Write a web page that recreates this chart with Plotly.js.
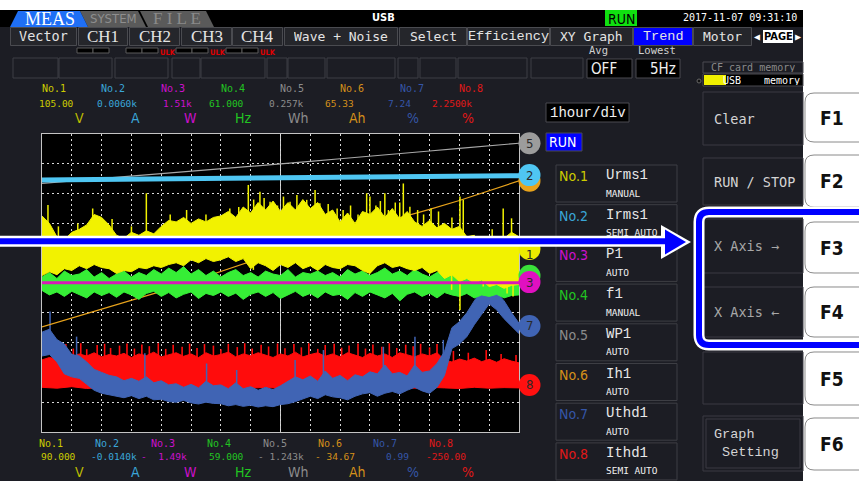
<!DOCTYPE html>
<html><head><meta charset="utf-8">
<script src="https://cdn.plot.ly/plotly-3.0.1.min.js"></script>
<style>html,body{margin:0;padding:0;background:#fff;overflow:hidden}#chart{width:859px;height:481px}</style>
</head><body><div id="chart"></div>
<script>
const channelNames = ['No.1','No.2','No.3','No.4','No.5','No.6','No.7','No.8'];
const channelItems = ['Urms1','Irms1','P1','f1','WP1','Ih1','Uthd1','Ithd1'];
const channelModes = ['MANUAL','SEMI AUTO','AUTO','MANUAL','AUTO','AUTO','AUTO','SEMI AUTO'];
const channelUnits = ['V','A','W','Hz','Wh','Ah','%','%'];
const upperScale = ['105.00','0.0060k','1.51k','61.000','0.257k','65.33','7.24','2.2500k'];
const lowerScale = ['90.000','-0.0140k','-  1.49k','59.000','- 1.243k','- 34.67','0.99','-250.00'];
const menuTabs = ['Vector','CH1','CH2','CH3','CH4','Wave + Noise','Select','Efficiency','XY Graph','Trend','Motor'];
const softKeys = ['Clear','RUN / STOP','X Axis \u2192','X Axis \u2190','','Graph<br>&nbsp;Setting'];
const fKeys = ['F1','F2','F3','F4','F5','F6'];
const timeDiv = '1hour/div';
const windowHours = 16;

// values in screen divisions (0..10), sampled evenly across the 16 h window
const whTrend   = [8.34,8.42,8.50,8.59,8.67,8.76,8.84,8.92,9.00,9.08,9.17,9.25,9.34,9.43,9.52,9.60,9.69];
const irmsTrend = [8.46,8.47,8.49,8.50,8.51,8.52,8.52,8.53,8.54,8.55,8.55,8.56,8.57,8.57,8.58,8.58,8.60];
const ahTrend   = [3.53,3.83,4.13,4.43,4.72,5.05,5.38,5.72,6.06,6.35,6.63,6.90,7.17,7.47,7.77,8.10,8.43];
const pTrend    = [5.01,5.01,5.01,5.01,5.01,5.01,5.01,5.01,5.01,5.01,5.01,5.01,5.01,5.01,5.01,5.01,5.01];

const urmsHigh = [7.25,7.00,6.55,6.45,6.70,6.80,6.95,7.30,7.20,6.95,
                  6.60,6.50,6.70,6.60,6.75,6.65,6.90,7.10,7.05,7.20,
                  7.00,7.15,7.05,7.20,7.25,7.40,7.20,7.55,7.35,7.70,
                  7.45,7.75,7.40,7.70,7.45,7.80,7.50,7.70,7.30,7.45,
                  7.05,7.35,7.00,7.40,7.30,7.55,7.20,7.50,7.15,7.40,
                  7.05,6.90,7.10,6.85,7.00,6.80,6.90,6.55,6.60,6.35,
                  6.45,6.30,6.50,6.70,6.55];
const urmsLow  = [5.25,5.38,5.28,5.48,5.42,5.58,5.48,5.62,5.52,5.48,
                  5.32,5.42,5.38,5.52,5.48,5.58,5.52,5.62,5.68,5.58,
                  5.78,5.68,5.82,5.72,5.78,5.88,5.72,5.82,5.48,5.68,
                  5.58,5.42,5.62,5.52,5.68,5.48,5.58,5.42,5.62,5.52,
                  5.48,5.62,5.58,5.42,5.32,5.58,5.68,5.52,5.58,5.48,
                  5.42,5.52,5.32,5.42,5.15,5.28,5.05,5.15,5.00,5.10,
                  4.88,4.95,4.82,4.92,4.95];
const urmsSpikeHours = [0.2,0.55,1.2,1.7,2.35,3.0,3.5,4.3,4.85,5.5,6.3,6.92,7.1,7.31,7.65,7.9,8.1,8.32,8.77,8.88,
                        9.16,9.32,10.1,10.6,10.89,11.0,11.2,11.5,11.62,12.0,12.12,12.34,12.8,13.3,13.75,14.02,14.13,15.1,15.47,15.75,
                        6.6,7.45,8.55,9.6,9.9,10.35,11.35,11.85,12.6,13.05];
const urmsSpikeTops  = [7.62,6.9,7.0,7.5,7.15,6.9,8.01,7.3,7.45,7.3,7.5,8.29,7.8,8.06,7.73,7.6,7.9,7.73,7.6,7.79,
                        8.12,7.68,7.45,7.3,8.01,7.9,7.6,8.01,7.45,7.7,8.34,7.56,7.3,7.4,7.2,7.9,7.79,6.8,7.5,7.17,
                        7.55,7.85,7.95,7.65,7.5,7.6,7.75,7.7,7.45,7.5];
const urmsDipHours   = [7.09,9.1,11.0,13.74,14.02,14.8,15.6,15.8];
const urmsDipBottoms = [5.44,5.5,5.32,4.77,4.09,4.88,4.65,4.55];

const fHigh = [5.20,5.35,5.15,5.40,5.25,5.30,5.45,5.20,5.35,5.15,
               5.30,5.40,5.20,5.35,5.25,5.45,5.30,5.50,5.35,5.55,
               5.30,5.45,5.25,5.40,5.20,5.35,5.45,5.25,5.35,5.20,
               5.40,5.30,5.25,5.45,5.20,5.35,5.30,5.40,5.25,5.35,
               5.20,5.45,5.30,5.40,5.25,5.35,5.50,5.30,5.40,5.25,
               5.45,5.30,5.20,5.35,5.40,5.25,5.40,5.30,5.45,5.35,
               5.50,5.40,5.45,5.35,5.30];
const fLow  = [4.75,4.60,4.70,4.55,4.72,4.62,4.50,4.70,4.58,4.68,
               4.52,4.70,4.60,4.45,4.65,4.72,4.55,4.68,4.50,4.62,
               4.70,4.48,4.65,4.58,4.70,4.55,4.66,4.45,4.62,4.70,
               4.55,4.68,4.48,4.60,4.72,4.55,4.65,4.50,4.70,4.58,
               4.62,4.45,4.68,4.55,4.70,4.60,4.50,4.65,4.40,4.62,
               4.70,4.55,4.66,4.50,4.68,4.60,4.55,4.65,4.50,4.60,
               4.55,4.62,4.50,4.58,4.60];

const uthdHigh = [3.35,3.45,3.10,2.95,2.60,2.55,2.35,2.10,2.00,1.90,
                  1.85,1.72,1.80,1.70,1.85,1.65,1.72,1.58,1.62,1.50,
                  1.60,1.48,1.70,1.55,1.58,1.45,1.65,1.45,1.52,1.40,
                  1.50,1.42,1.55,1.70,1.85,1.75,1.88,1.70,2.05,1.80,
                  1.90,1.72,1.92,1.85,2.02,1.95,2.25,1.95,2.00,1.88,
                  2.25,2.00,2.05,2.30,2.70,3.50,3.70,4.00,4.40,4.75,
                  4.95,4.70,4.40,4.00,3.65];
const uthdLow  = [2.55,2.60,2.35,1.95,1.85,1.80,1.60,1.40,1.30,1.25,
                  1.20,1.15,1.22,1.12,1.20,1.08,1.10,1.02,1.00,1.06,
                  0.98,0.94,1.00,0.96,0.95,0.88,0.92,0.86,0.90,0.84,
                  0.88,0.85,0.92,0.95,1.02,1.10,1.20,1.12,1.25,1.18,
                  1.15,1.08,1.20,1.28,1.32,1.20,1.30,1.36,1.28,1.40,
                  1.50,1.38,1.30,1.50,1.90,2.80,2.95,3.20,3.60,3.95,
                  4.30,4.10,3.80,3.55,3.30];
const uthdSpikeHours = [0.27,1.16,3.45,5.52,6.53,8.49,9.44,11.45,12.51,13.46];
const uthdSpikeTops  = [4.04,3.20,2.64,2.30,2.08,2.42,2.75,2.86,3.20,3.09];

const ithdHigh = [2.42,2.50,2.45,2.58,2.52,2.62,2.55,2.66,2.52,2.60,
                  2.55,2.64,2.50,2.62,2.56,2.68,2.52,2.60,2.66,2.54,
                  2.62,2.50,2.66,2.55,2.60,2.68,2.52,2.62,2.56,2.66,
                  2.58,2.50,2.62,2.55,2.68,2.52,2.60,2.66,2.54,2.62,
                  2.52,2.66,2.58,2.50,2.64,2.55,2.62,2.50,2.66,2.58,
                  2.52,2.62,2.55,2.66,2.42,2.35,2.45,2.38,2.48,2.36,
                  2.44,2.34,2.46,2.38,2.32];
const ithdLow  = [1.50,1.47,1.52,1.46,1.49,1.45,1.50,1.47,1.48,1.45,
                  1.50,1.46,1.48,1.45,1.47,1.50,1.46,1.48,1.45,1.49,
                  1.47,1.50,1.46,1.48,1.52,1.47,1.50,1.48,1.46,1.50,
                  1.47,1.49,1.48];
const ithdSpikeHours = [0.55,0.8,1.05,1.3,1.5,1.85,2.1,2.3,2.6,2.85,
                        3.1,3.35,3.6,3.9,4.15,4.4,4.7,4.95,5.2,5.45,
                        5.75,6.0,6.25,6.55,6.8,7.05,7.35,7.6,7.9,8.15,
                        8.45,8.7,8.95,9.25,9.5,9.8,10.05,10.3,10.6,10.85,
                        11.1,11.4,11.65,11.9,12.2,12.45,12.7,13.0,13.25,
                        13.8,14.3,14.9,15.4,15.9];
const ithdSpikeTops  = [2.85,2.95,2.80,2.98,2.78,2.92,2.96,2.82,2.90,2.97,
                        2.80,2.94,2.88,2.98,2.79,2.93,2.86,2.97,2.82,2.95,
                        2.90,2.78,2.96,2.85,2.98,2.80,2.93,2.87,2.97,2.81,
                        2.95,2.84,2.98,2.79,2.92,2.96,2.83,2.90,2.97,2.80,
                        2.94,2.86,2.98,2.82,2.93,2.88,2.96,2.84,2.95,
                        2.72,2.66,2.75,2.62,2.58];

// end-of-trace markers (channel number, value in divisions)
const markerOrder  = [5,6,2,1,4,3,7,8];
const markerValues = [9.69,8.43,8.62,6.14,5.24,5.03,3.56,1.58];

// ---------------- helpers ----------------
const hoursOf = arr => arr.map((_, i) => i * windowHours / (arr.length - 1));
function interp(xs, ys, x){ for(let i=1;i<xs.length;i++){ if(x<=xs[i]){const t=(x-xs[i-1])/(xs[i]-xs[i-1]);return ys[i-1]+t*(ys[i]-ys[i-1]);} } return ys[ys.length-1]; }
function spikes(hours, ends, refArr, offset){
  const xs=[], ys=[]; const rx=hoursOf(refArr);
  hours.forEach((h,i)=>{ xs.push(h,h,null); ys.push(interp(rx,refArr,h)+offset, ends[i], null); });
  return {x:xs,y:ys};
}

const PL=42, PR=519, PT=134, PB=432;
const fx = x => (x-PL)/(PR-PL);
const fy = y => (PB-y)/(PB-PT);
let shapes=[]; const anns=[];
const NONE='rgba(0,0,0,0)';
function rect(x0,y0,x1,y1,fill,line,lw){ shapes.push({type:'rect',xref:'paper',yref:'paper',x0:fx(x0),x1:fx(x1),y0:fy(y1),y1:fy(y0),fillcolor:fill||NONE,line:{color:line||NONE,width:line?(lw||1):0}}); }
const P=(x,y)=>fx(x).toFixed(5)+','+fy(y).toFixed(5);
function poly(pts,fill,line,lw){ const d=pts.map((p,i)=>(i?'L':'M')+P(p[0],p[1])).join(' ')+' Z'; shapes.push({type:'path',xref:'paper',yref:'paper',path:d,fillcolor:fill||NONE,line:{color:line||NONE,width:line?lw:0}}); }
function rrect(x0,y0,x1,y1,r,fill,line,lw){ const d=`M${P(x0+r,y0)} L${P(x1-r,y0)} Q${P(x1,y0)} ${P(x1,y0+r)} L${P(x1,y1-r)} Q${P(x1,y1)} ${P(x1-r,y1)} L${P(x0+r,y1)} Q${P(x0,y1)} ${P(x0,y1-r)} L${P(x0,y0+r)} Q${P(x0,y0)} ${P(x0+r,y0)} Z`; shapes.push({type:'path',xref:'paper',yref:'paper',path:d,fillcolor:fill||NONE,line:{color:line||NONE,width:line?lw:0}}); }
function hline(x0,x1,y,color,w){ shapes.push({type:'line',xref:'paper',yref:'paper',x0:fx(x0),x1:fx(x1),y0:fy(y),y1:fy(y),line:{color,width:w}}); }
function label(x,y,t,color,size,family,xa,weight,h){ const a={xref:'paper',yref:'paper',x:fx(x),y:fy(y),text:t,showarrow:false,xanchor:xa||'left',yanchor:'middle',align:xa||'left',borderpad:0,font:{color,size,family,weight:weight||'normal'}}; if(h) a.height=h; anns.push(a); }

const MONO='DejaVu Sans Mono', LMONO='Liberation Mono', SERIF='Liberation Serif', COND='DejaVu Sans Condensed';
const labelColors=['#cccc00','#3aa6d8','#cc10cc','#22c422','#8c8c8c','#d4901a','#3556a8','#e01818'];
const unitColors =['#bcbc00','#3aa6d8','#cc10cc','#22c422','#8c8c8c','#d4901a','#3556a8','#e01818'];

// ---------------- screen chrome ----------------
rect(0,0,859,10,'#ffffff');
rect(803,0,859,481,'#ffffff');
rect(0,10,803,27,'#000000');
poly([[80,11],[138,11],[146,27],[88,27]],'#5a5a5a');
poly([[140,11],[206,11],[214,27],[148,27]],'#5a5a5a');
poly([[10,27],[18,11],[80,11],[88,27]],'#1f6ff5');
label(50,19,'MEAS','#ffffff',18,SERIF,'center','normal',15);
label(113,19,'SYSTEM','#8e8e8e',13,COND,'center','normal',15);
label(177,19,'F I L E','#8a8a8a',17,SERIF,'center','normal',15);
label(383,18,'USB','#ffffff',11,COND,'center','bold');
rect(605,10,637,26,'#10e010');
label(621,18.5,'RUN','#000000',14,COND,'center','normal',15);
label(798,18,'2017-11-07 09:31:10','#ffffff',10,MONO,'right');
const menuX=[[10,77],[78,128],[129,180],[181,232],[232,283],[284,398],[399,467],[467,550],[550,633],[633,693],[693,752]];
const menuFonts=[[MONO,13.5],[SERIF,17],[SERIF,17],[SERIF,17],[SERIF,17],[MONO,13],[MONO,13],[LMONO,13.5],[MONO,13],[LMONO,13.5],[MONO,13]];
menuTabs.forEach((t,i)=>{
  const [a,b]=menuX[i];
  rect(a+0.5,27.5,b-0.5,45.5, t==='Trend'?'#0000ff':'#25262b','#4a4b50',1);
  label((a+b)/2,36.5,t,'#e4e4e4',menuFonts[i][1],menuFonts[i][0],'center','normal',16);
});
rect(763,30,793,43,'#ffffff');
label(757,37,'\u25C0','#ffffff',10,MONO,'center');
label(778,37,'PAGE','#000000',11,COND,'center','bold');
label(798,37,'\u25B6','#ffffff',10,MONO,'center');
[[77,109],[126,158],[176,208],[226,258]].forEach(([a,b],i)=>{
  rect(a,48,(a+b)/2,53,'#000','#5a5a5a',1); rect((a+b)/2,48,b,53,'#000','#5a5a5a',1);
  if(i>0) label(b+1,51.5,'ULK','#e00000',7.5,COND,'left','bold',8);
});
[[13,58],[59,112],[115,168],[172,200],[201,265],[267,287],[288,325],[327,395],[398,418],[420,456],[458,527],[531,583]].forEach(([a,b])=>rect(a,58,b,78,NONE,'#3d3e44',1));
label(588,50,'Avg','#d0d0d0',10.5,MONO);
label(637,50,'Lowest','#d0d0d0',10.5,MONO);
rect(587,59,632,78,'#000','#4a4b50',1); label(590,68.5,'OFF','#f0f0f0',15,COND);
rect(636,59,680,78,'#000','#4a4b50',1); label(677,68.5,'5Hz','#f0f0f0',15,COND,'right');
rect(703,62,803,73,NONE,'#4a4b50',1); label(753,67.5,'CF card memory','#8a8a8a',10,MONO,'center','normal',10);
rect(703,74,803,86,'#000','#4a4b50',1); rect(704,75,726,85,'#f0f000');
label(722,80,'USB','#ffffff',10,MONO,'left','normal',10); label(801,80,'memory','#ffffff',10,MONO,'right','normal',10);
shapes.push({type:'circle',xref:'paper',yref:'paper',x0:fx(697),x1:fx(701),y0:fy(83),y1:fy(79),fillcolor:'#111',line:{color:'#666',width:1}});

const topNoX=[41,100,160,220,279,339,399,458], topValX=[75,138,193,245,305,355,412,473];
const botNoX=[38,94,150,206,262,317,372,428], botValX=[77,138,188,245,305,356,410,467];
const unitX=[79,135,190,243,298,357,413,468];
channelNames.forEach((n,i)=>{
  label(topNoX[i],89,n,labelColors[i],10,MONO);
  label(topValX[i],103,upperScale[i],labelColors[i],9.5,MONO,'right');
  label(unitX[i],118,channelUnits[i],unitColors[i],14,COND,'center');
  label(botNoX[i],443,n,labelColors[i],10,MONO);
  label(botValX[i],456.5,lowerScale[i],labelColors[i],9.5,MONO,'right');
  label(unitX[i],472,channelUnits[i],unitColors[i],14,COND,'center');
});

rect(546,103,629,122,'#000','#4a4b50',1); label(549,112.5,timeDiv,'#f0f0f0',14,LMONO);
rect(546,133,582,151,'#0000ff','#4a4b50',1); label(548,142,'RUN','#ffffff',14,COND);
channelNames.forEach((n,i)=>{
  const top=165+39.7*i;
  rect(556,top,677,top+37,NONE,'#3d3e44',1);
  label(558,top+11,n,labelColors[i],14,COND);
  label(605,top+10,channelItems[i],'#e8e8e8',14,LMONO);
  label(605,top+28,channelModes[i],'#f0f0f0',9.5,MONO);
});

const softBox=[[92,145],[158,205],[219,273],[287,337],[352,404],[416,471]];
const fBox=[[93,142],[155,207],[222,273],[287,337],[352,405],[418,470]];
softKeys.forEach((t,i)=>{
  const [a,b]=softBox[i];
  rect(703,a,803,b,'#1c1d24','#3a3b42',1);
  if(i===5) rect(706,a+3,800,b-3,NONE,'#3a3b42',1);
  const col=(i===2||i===3)?'#a8a8a8':'#d4d4d4';
  label(713,(a+b)/2,t,col,13.5,(i===5?LMONO:MONO),'left');
});
fKeys.forEach((t,i)=>{
  const [a,b]=fBox[i];
  rrect(805,a,890,b,9,'#ffffff','#8a8a8a',1);
  label(832,(a+b)/2,t,'#111111',19,COND,'center','bold');
});

const hl=`M${P(880,212)} L${P(709,212)} Q${P(699,212)} ${P(699,222)} L${P(699,335)} Q${P(699,345)} ${P(709,345)} L${P(880,345)}`;
shapes.push({type:'path',xref:'paper',yref:'paper',path:hl,line:{color:'#ffffff',width:11}});
shapes.push({type:'path',xref:'paper',yref:'paper',path:hl,line:{color:'#0000ff',width:6}});

const markerInsertAt = shapes.length;   // end markers go beneath the pointer arrow
hline(-5,668,241.3,'#ffffff',11);
poly([[661,225],[691,242],[661,259]],'#ffffff');
hline(-5,668,241.3,'#0000ff',6);
poly([[665,229.5],[686,242],[665,254.5]],'#0000ff');

shapes.push({type:'line',xref:'x',yref:'paper',x0:8,x1:8,y0:0,y1:1,line:{color:'#c8c8c8',width:1},layer:'below'});

// ---------------- traces ----------------
const traces=[];
function band(low,high,color){
  traces.push({x:hoursOf(low),y:low,mode:'lines',line:{color,width:1},hoverinfo:'skip'});
  traces.push({x:hoursOf(high),y:high,mode:'lines',line:{color,width:1},fill:'tonexty',fillcolor:color,hoverinfo:'skip'});
}
function line(arr,color,w){ traces.push({x:hoursOf(arr),y:arr,mode:'lines',line:{color,width:w},hoverinfo:'skip'}); }
function spk(s,color,w){ traces.push({x:s.x,y:s.y,mode:'lines',line:{color,width:w||1.2},hoverinfo:'skip',connectgaps:false}); }

band(ithdLow,ithdHigh,'#ff0c0c');
spk(spikes(ithdSpikeHours,ithdSpikeTops,ithdHigh,-0.1),'#ff0c0c',1.6);
band(uthdLow,uthdHigh,'#4064b4');
spk(spikes(uthdSpikeHours,uthdSpikeTops,uthdHigh,-0.1),'#4064b4',1.5);
line(ahTrend,'#e8a31c',1.2);
line(whTrend,'#a8a8a8',1.2);
band(fLow,fHigh,'#36ee36');
band(urmsLow,urmsHigh,'#f2f200');
spk(spikes(urmsSpikeHours,urmsSpikeTops,urmsHigh,-0.1),'#f2f200',1.5);
spk(spikes(urmsDipHours,urmsDipBottoms,urmsLow,0.1),'#f2f200',1.5);
line(pTrend,'#d81ab8',3);
line(irmsTrend,'#4fc6f2',5);

const axis={showgrid:true,gridcolor:'#d8d8d8',griddash:'2px,3px',gridwidth:1,zeroline:false,showticklabels:false,ticks:'',
  showline:true,mirror:true,linecolor:'#c4c4c4',linewidth:1,fixedrange:true};
const layout={
  width:859,height:481,margin:{l:PL,r:859-PR,t:PT,b:481-PB,pad:0},
  paper_bgcolor:'#1c1d24',plot_bgcolor:'#000000',showlegend:false,
  xaxis:Object.assign({range:[0,windowHours],dtick:1,tick0:0},axis),
  yaxis:Object.assign({range:[0,10],dtick:1,tick0:0},axis),
  shapes:shapes,annotations:anns
};
const mColors={1:'#ecec00',2:'#4fc6f2',3:'#e010c0',4:'#3ae03a',5:'#9c9c9c',6:'#e8a31c',7:'#4064b4',8:'#ff1010'};
Plotly.newPlot('chart',traces,layout,{staticPlot:true,displayModeBar:false}).then(gd=>{
  // place the channel end markers through the library's own y scale
  const ya=gd._fullLayout.yaxis, H=ya._length;
  const toPaper = v => 1 - ya.c2p(v)/H;
  const r = 11/(PR-PL), ry = 11/H;
  const cx = fx(529.5);
  const circles=[], extra=[];
  markerOrder.forEach((c,i)=>{
    const yp = toPaper(markerValues[i]);
    circles.push({type:'circle',xref:'paper',yref:'paper',x0:cx-r,x1:cx+r,y0:yp-ry,y1:yp+ry,fillcolor:mColors[c],line:{width:0}});
    if(c!==4 && c!==6) extra.push({xref:'paper',yref:'paper',x:cx,y:yp-(c===1?0.02:0),text:String(c),showarrow:false,xanchor:'center',yanchor:'middle',borderpad:0,font:{color:'#2a2a2a',size:13,family:COND}});
  });
  const allShapes = shapes.slice(0,markerInsertAt).concat(circles, shapes.slice(markerInsertAt));
  return Plotly.relayout(gd,{shapes:allShapes,annotations:anns.concat(extra)});
});
</script></body></html>
